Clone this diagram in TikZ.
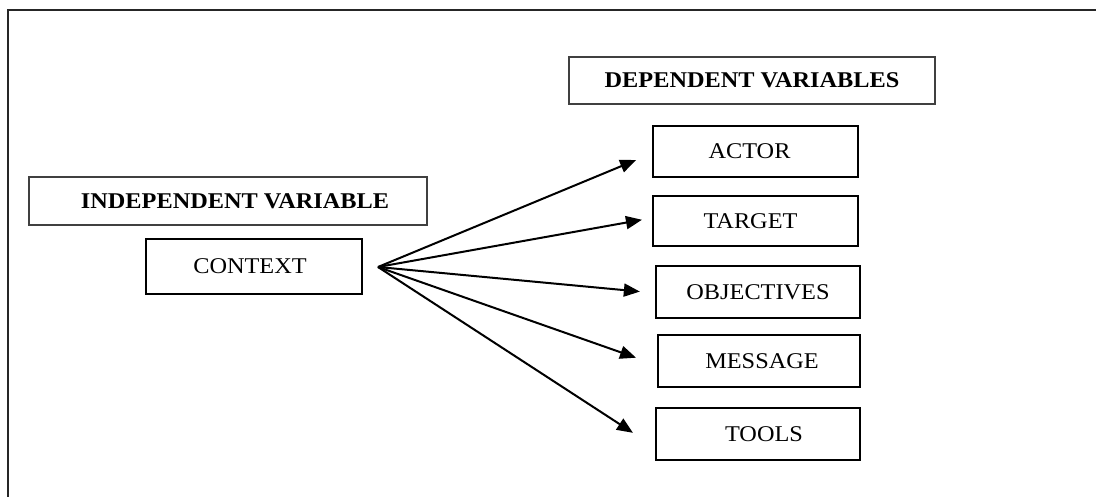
\documentclass[tikz,border=0pt]{standalone}
\usepackage{fontspec}
\setmainfont[FakeStretch=1.08]{Liberation Serif}
\usetikzlibrary{arrows.meta}
\begin{document}
\begin{tikzpicture}[x=1pt,y=-1pt,
  hdr/.style={draw=black!75, line width=1.3pt, inner sep=0pt,
    font=\fontsize{22.5}{26}\selectfont\bfseries},
  box/.style={draw=black, line width=2.4pt, inner sep=0pt,
    font=\fontsize{22.5}{26}\selectfont},
  arr/.style={line width=2pt, -{Triangle[length=16pt,width=13pt]}}]
\useasboundingbox (0,0) rectangle (1096,497);
% outer frame (runs off the page at right and bottom)
\draw[line width=2.2pt, black!85] (8,10) rectangle (1110,510);
% headers
\node[hdr, minimum width=398pt, minimum height=48pt] (iv) at (228,201) {\hspace*{14pt}INDEPENDENT VARIABLE};
\node[hdr, minimum width=366pt, minimum height=47pt] (dv) at (752,80.5) {DEPENDENT VARIABLES};
% boxes
\node[box, minimum width=216pt, minimum height=55pt] (ctx) at (254,266.5) {CONTEXT\hspace*{8pt}};
\node[box, minimum width=205pt, minimum height=51pt] (actor) at (755.5,151.5) {ACTOR\hspace*{12pt}};
\node[box, minimum width=205pt, minimum height=50pt] (target) at (755.5,221) {TARGET\hspace*{10pt}};
\node[box, minimum width=204pt, minimum height=52pt] (obj) at (758,292) {OBJECTIVES};
\node[box, minimum width=202pt, minimum height=52pt] (msg) at (759,361) {\hspace*{6pt}MESSAGE};
\node[box, minimum width=204pt, minimum height=52pt] (tools) at (758,434) {\hspace*{12pt}TOOLS};
% fan origin
\coordinate (src) at (378,267);
\draw[arr, shorten >=17pt] (src) -- ([yshift=-2pt]actor.west);
\draw[arr, shorten >=10pt] (src) -- ([yshift=3pt]target.west);
\draw[arr, shorten >=15pt] (src) -- ([yshift=-1pt]obj.west);
\draw[arr, shorten >=22pt] (src) -- ([yshift=-4pt]msg.west);
\draw[arr, shorten >=26pt] (src) -- ([yshift=-13pt]tools.west);
\end{tikzpicture}
\end{document}
